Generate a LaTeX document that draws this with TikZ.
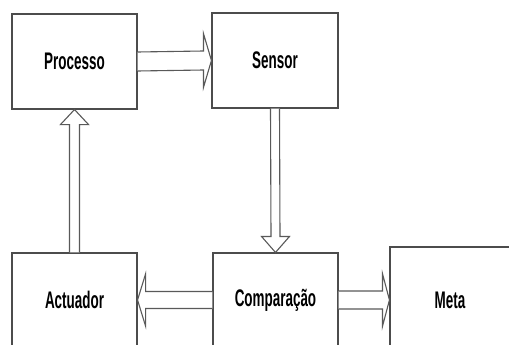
\documentclass[tikz,border=0pt]{standalone}
\usepackage{fontspec}
\setmainfont{Liberation Sans}
\usepackage{graphicx}
\tikzset{
  blockbox/.style={draw=black!70, line width=1.1pt, fill=white, inner sep=0pt,
    font=\fontsize{24}{26}\selectfont\bfseries},
  barrow/.style={draw=black!65, line width=1.1pt, fill=white, line join=miter},
}
\newcommand{\narrowtext}[1]{\scalebox{0.56}[1]{#1}}
\begin{document}
\begin{tikzpicture}[x=1pt,y=-1pt]
\useasboundingbox (0,0) rectangle (509,345);
\clip (0,0) rectangle (509,345);
\node[blockbox, minimum width=125pt, minimum height=95pt] (P) at (74.5,61.5) {\narrowtext{Processo}};
\node[blockbox, minimum width=126pt, minimum height=95pt] (S) at (275,60.5) {\narrowtext{Sensor}};
\node[blockbox, minimum width=125pt, minimum height=94pt] (A) at (74.5,300) {\narrowtext{Actuador}};
\node[blockbox, minimum width=125pt, minimum height=94pt] (C) at (275.5,300) {\narrowtext{Comparação}};
\node[blockbox, minimum width=120pt, minimum height=106pt] (M) at (450,300) {\narrowtext{Meta}};
% Processo -> Sensor
\draw[barrow] ([shift={(0,-9.5)}]P.east) -- ([shift={(-8,-9.5)}]S.west) -- ([shift={(-8,-27)}]S.west)
  -- (S.west) -- ([shift={(-8,27)}]S.west) -- ([shift={(-8,9.5)}]S.west) -- ([shift={(0,9.5)}]P.east);
% Actuador -> Processo
\draw[barrow] ([shift={(-5,0)}]A.north) -- ([shift={(-5,15)}]P.south) -- ([shift={(-14,15)}]P.south)
  -- (P.south) -- ([shift={(14,15)}]P.south) -- ([shift={(5,15)}]P.south) -- ([shift={(5,0)}]A.north);
% Sensor -> Comparacao
\draw[barrow] ([shift={(-4.5,0)}]S.south) -- ([shift={(-4.5,-16)}]C.north) -- ([shift={(-14,-16)}]C.north)
  -- (C.north) -- ([shift={(14,-16)}]C.north) -- ([shift={(4.5,-16)}]C.north) -- ([shift={(4.5,0)}]S.south);
% Comparacao -> Actuador
\draw[barrow] ([shift={(0,-8.5)}]C.west) -- ([shift={(8,-8.5)}]A.east) -- ([shift={(8,-26)}]A.east)
  -- (A.east) -- ([shift={(8,26)}]A.east) -- ([shift={(8,8.5)}]A.east) -- ([shift={(0,8.5)}]C.west);
% Comparacao -> Meta
\draw[barrow] ([shift={(0,-9)}]C.east) -- ([shift={(-7,-9)}]M.west) -- ([shift={(-7,-26.5)}]M.west)
  -- (M.west) -- ([shift={(-7,26.5)}]M.west) -- ([shift={(-7,9)}]M.west) -- ([shift={(0,9)}]C.east);
\end{tikzpicture}
\end{document}
